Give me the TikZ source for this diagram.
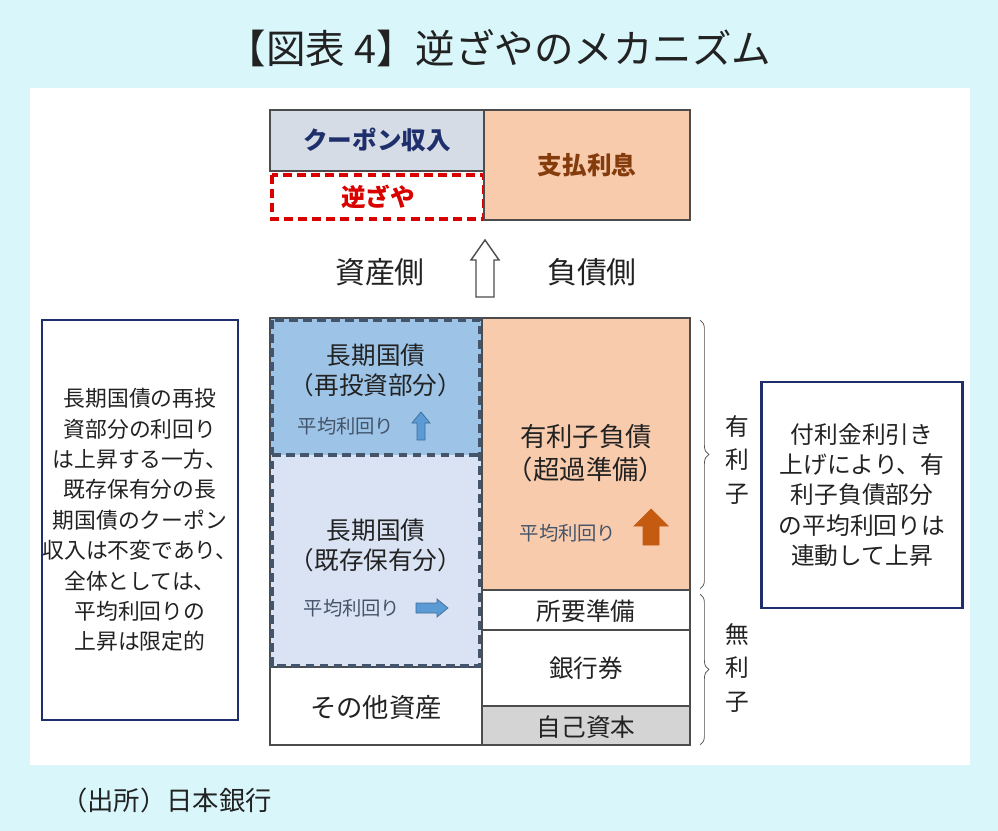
\documentclass[tikz,border=0pt]{standalone}
\usepackage{fontspec}
\setmainfont{Noto Sans CJK JP}
\usetikzlibrary{decorations.pathreplacing}
\newlength\pxu \setlength\pxu{0.2mm}
\definecolor{bgc}{HTML}{D9F7FB}
\definecolor{navy}{HTML}{1F2F6B}
\definecolor{peach}{HTML}{F8CBAD}
\definecolor{brownt}{HTML}{843C0C}
\definecolor{blued}{HTML}{9DC3E6}
\definecolor{bluel}{HTML}{DAE3F3}
\definecolor{cpn}{HTML}{D6DCE5}
\definecolor{dashb}{HTML}{44546A}
\definecolor{arrb}{HTML}{5B9BD5}
\definecolor{arro}{HTML}{C55A11}
\definecolor{txt}{HTML}{222222}
\tikzset{
  box/.style={draw=black!70, line width=0.7pt},
  lbl/.style={font=\fontsize{14}{17}\selectfont, text=txt, align=center},
  sml/.style={font=\fontsize{11}{13}\selectfont, text=dashb},
  note/.style={draw=navy, line width=1.2pt, fill=white, font=\fontsize{13.5}{17.3}\selectfont, align=center, text=txt, inner xsep=0pt},
  dsh/.style={dash pattern=on 5pt off 3pt, line width=2pt},
}
\newcommand\uparr[5]{\draw[#5] (-#1,0) -- (-#1,-#4+#3) -- (-#2,-#4+#3) -- (0,-#4) -- (#2,-#4+#3) -- (#1,-#4+#3) -- (#1,0) -- cycle;}
\begin{document}
\begin{tikzpicture}[x=0.02cm,y=-0.02cm]
\useasboundingbox (0,0) rectangle (998,831);
\fill[bgc] (0,0) rectangle (998,831);
\fill[white] (30,88) rectangle (970,765);
\node[font=\fontsize{22.5}{27}\selectfont, text=txt] (title) at (499,48) {【図表 4】逆ざやのメカニズム};
% top
\draw[box, fill=cpn] (270,110) rectangle (484,171);
\node[lbl, text=navy, font=\bfseries\fontsize{14}{17}\selectfont] (cp) at (377,140) {クーポン収入};
\draw[red!85!black, dsh] (272,175) rectangle (484,219);
\node[lbl, text=red!85!black, font=\bfseries\fontsize{14}{17}\selectfont] (gz) at (378,197) {逆ざや};
\draw[box, fill=peach] (484,110) rectangle (690,220);
\node[lbl, text=brownt, font=\bfseries\fontsize{14}{17}\selectfont] (sh) at (587,165) {支払利息};
\begin{scope}[shift={(485,297)}]\uparr{9}{14}{20}{57}{draw=black!70, fill=white, line width=0.8pt}\end{scope}
\node[lbl, font=\fontsize{17}{20}\selectfont] (as) at (380,272) {資産側};
\node[lbl, font=\fontsize{17}{20}\selectfont] (li) at (592,272) {負債側};
% left column
\fill[blued] (270,318) rectangle (482,455);
\fill[bluel] (270,455) rectangle (482,667);
\draw[box] (270,318) rectangle (482,745);
\draw[box] (270,667) -- (482,667);
\draw[dashb, dsh] (272,320) rectangle (480,666);
\draw[dashb, dsh] (272,455) -- (480,455);
\node[lbl] (l1) at (376,370) {長期国債\\（再投資部分）};
\node[sml] (l1s) at (346,426) {平均利回り};
\begin{scope}[shift={(421,440)}]\uparr{4}{9}{11}{28}{fill=arrb, draw=arrb!70!black}\end{scope}
\node[lbl] (l2) at (376,545) {長期国債\\（既存保有分）};
\node[sml] (l2s) at (352,608) {平均利回り};
\begin{scope}[shift={(416,608)}, rotate=-90]\uparr{5}{9}{11}{32}{fill=arrb, draw=arrb!70!black}\end{scope}
\node[lbl, font=\fontsize{15}{18}\selectfont] (oth) at (376,708) {その他資産};
% right column
\draw[box, fill=peach] (482,318) rectangle (690,590);
\draw[box] (482,590) rectangle (690,630);
\draw[box] (482,630) rectangle (690,706);
\draw[box, fill=black!17] (482,706) rectangle (690,745);
\node[lbl, font=\fontsize{15}{19}\selectfont] (r1) at (586,453) {有利子負債\\（超過準備）};
\node[sml] (r1s) at (568,533) {平均利回り};
\begin{scope}[shift={(651,545)}]\uparr{8}{17}{17}{36}{fill=arro, draw=arro}\end{scope}
\node[lbl] (r2) at (586,611) {所要準備};
\node[lbl] (r3) at (586,668) {銀行券};
\node[lbl] (r4) at (586,727) {自己資本};
% braces
\draw[black!70, decorate, decoration={brace, amplitude=5pt}] (700,320) -- (700,589);
\draw[black!70, decorate, decoration={brace, amplitude=5pt}] (700,594) -- (700,745);
\node[lbl, font=\fontsize{13.5}{19}\selectfont] (yr) at (737,460) {有\\利\\子};
\node[lbl, font=\fontsize{13.5}{19}\selectfont] (mr) at (737,668) {無\\利\\子};
% notes
\node[note, font=\fontsize{12.4}{17.3}\selectfont, minimum width=196\pxu, minimum height=400\pxu] (n1) at (140,520) {長期国債の再投\\資部分の利回り\\は上昇する一方、\\既存保有分の長\\期国債のクーポン\\収入は不変であり、\\全体としては、\\平均利回りの\\上昇は限定的};
\node[note, minimum width=201\pxu, minimum height=226\pxu] (n2) at (862,495) {付利金利引き\\上げにより、有\\利子負債部分\\の平均利回りは\\連動して上昇};
\node[lbl, font=\fontsize{15}{18}\selectfont, anchor=west] (src) at (55,800) {（出所）日本銀行};
\end{tikzpicture}
\end{document}
